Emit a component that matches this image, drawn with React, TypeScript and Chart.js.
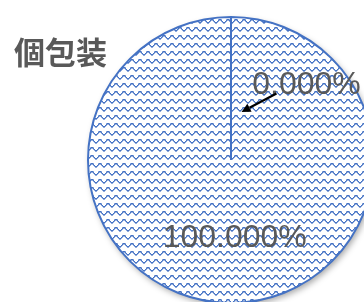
import React, { useEffect, useRef } from "react";
import { Chart, registerables } from "chart.js";

Chart.register(...registerables);

const title = "個包装";
const categories = ["なし", "あり"];
const values = [0, 100];

const BLUE = "#4472C4";
const TEXT = "#595959";

function makePattern(): CanvasPattern | string {
  const c = document.createElement("canvas");
  c.width = 8;
  c.height = 8;
  const g = c.getContext("2d");
  if (!g) return BLUE;
  g.fillStyle = "#ffffff";
  g.fillRect(0, 0, 8, 8);
  g.fillStyle = BLUE;
  // pixel wave: crest plateau and trough plateau
  const px: [number, number][] = [
    [0, 6], [1, 5], [2, 4], [3, 3], [4, 3], [5, 4], [6, 5], [7, 6],
  ];
  px.forEach(([x, y]) => g.fillRect(x, y, 1, 1));
  g.globalAlpha = 0.6;
  px.forEach(([x, y]) => g.fillRect(x, y + 1, 1, 1));
  g.fillRect(2, 3, 1, 1);
  g.fillRect(5, 3, 1, 1);
  g.globalAlpha = 1;
  const p = g.createPattern(c, "repeat");
  return p || BLUE;
}

const shadowPlugin = {
  id: "pieShadow",
  beforeDatasetsDraw(chart: any) {
    const arcs = chart.getDatasetMeta(0).data;
    const a = arcs.find((e: any) => e.circumference > 0) || arcs[0];
    if (!a) return;
    const ctx = chart.ctx;
    ctx.save();
    ctx.shadowColor = "rgba(0,0,0,0.35)";
    ctx.shadowBlur = 6;
    ctx.shadowOffsetX = 2;
    ctx.shadowOffsetY = 3;
    ctx.fillStyle = "#ffffff";
    ctx.beginPath();
    ctx.arc(a.x, a.y, a.outerRadius, 0, Math.PI * 2);
    ctx.fill();
    ctx.restore();
  },
};

// label offsets relative to pie centre (layout only)
const labelOffsets = [
  { dx: 75.5, dy: -74.5, arrow: { x1: 45.5, y1: -66.5, x2: 10.5, y2: -48 } },
  { dx: 3.7, dy: 78, arrow: null as any },
];

const labelPlugin = {
  id: "pieLabels",
  afterDatasetsDraw(chart: any) {
    const ctx = chart.ctx;
    const meta = chart.getDatasetMeta(0);
    const data = chart.data.datasets[0].data as number[];
    const total = data.reduce((s, v) => s + v, 0);
    const cx = meta.data[0].x;
    const cy = meta.data[0].y;
    ctx.save();
    data.forEach((v, i) => {
      const o = labelOffsets[i];
      const txt = ((v / total) * 100).toFixed(3) + "%";
      ctx.font = '32px "Liberation Sans", Arial, sans-serif';
      ctx.fillStyle = TEXT;
      ctx.textAlign = "center";
      ctx.textBaseline = "middle";
      ctx.fillText(txt, cx + o.dx, cy + o.dy);
      if (o.arrow) {
        const x1 = cx + o.arrow.x1, y1 = cy + o.arrow.y1;
        const x2 = cx + o.arrow.x2, y2 = cy + o.arrow.y2;
        const ang = Math.atan2(y2 - y1, x2 - x1);
        const hl = 9, hw = 4.5;
        const bx = x2 - hl * Math.cos(ang), by = y2 - hl * Math.sin(ang);
        ctx.strokeStyle = "#000000";
        ctx.lineWidth = 2.2;
        ctx.beginPath();
        ctx.moveTo(x1, y1);
        ctx.lineTo(bx, by);
        ctx.stroke();
        ctx.fillStyle = "#000000";
        ctx.beginPath();
        ctx.moveTo(x2, y2);
        ctx.lineTo(bx + hw * Math.sin(ang), by - hw * Math.cos(ang));
        ctx.lineTo(bx - hw * Math.sin(ang), by + hw * Math.cos(ang));
        ctx.closePath();
        ctx.fill();
      }
    });
    ctx.font = 'bold 31px "Noto Sans CJK JP", sans-serif';
    ctx.fillStyle = TEXT;
    ctx.textAlign = "left";
    ctx.textBaseline = "middle";
    ctx.fillText(title, 14, 52);
    ctx.restore();
  },
};

export default function App() {
  const ref = useRef<HTMLCanvasElement | null>(null);
  useEffect(() => {
    if (!ref.current) return;
    const pattern = makePattern();
    const chart = new Chart(ref.current, {
      type: "pie",
      data: {
        labels: categories,
        datasets: [
          {
            data: values,
            backgroundColor: [pattern as any, pattern as any],
            borderColor: BLUE,
            borderWidth: 2,
          },
        ],
      },
      options: {
        animation: false,
        responsive: false,
        devicePixelRatio: 1,
        rotation: 0,
        layout: { padding: { left: 87, top: 16, right: 25, bottom: 16 } },
        plugins: {
          legend: { display: false },
          tooltip: { enabled: false },
          title: { display: false },
        },
      },
      plugins: [shadowPlugin, labelPlugin],
    });
    return () => chart.destroy();
  }, []);
  return (
    <div
      style={{
        position: "fixed",
        left: 0,
        top: 0,
        width: 364,
        height: 302,
        overflow: "hidden",
        background: "#ffffff",
      }}
    >
      <canvas ref={ref} width={400} height={320} style={{ width: 400, height: 320 }} />
    </div>
  );
}
